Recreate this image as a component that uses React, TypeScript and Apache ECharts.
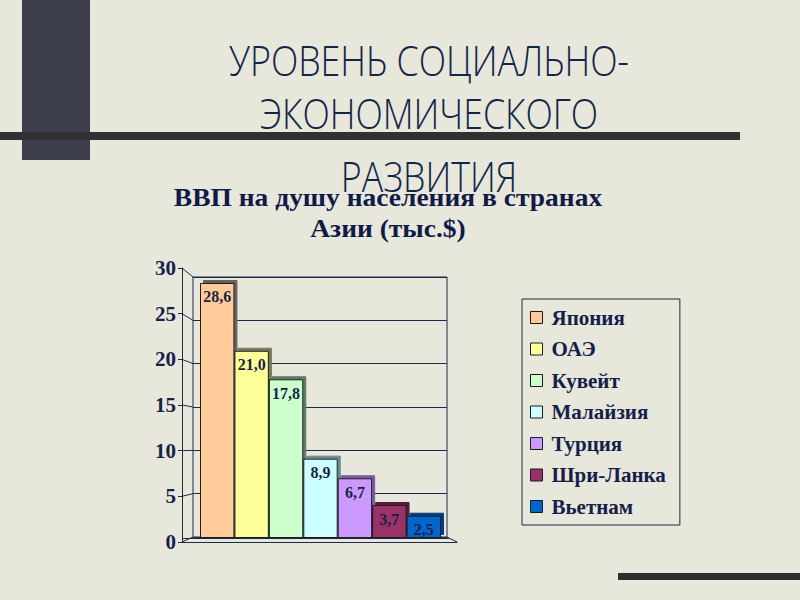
import React, { useEffect, useRef } from "react";
import * as echarts from "echarts";

const categories = ["Япония", "ОАЭ", "Кувейт", "Малайзия", "Турция", "Шри-Ланка", "Вьетнам"];
const values = [28.6, 21.0, 17.8, 8.9, 6.7, 3.7, 2.5];
const tickValues = [0, 5, 10, 15, 20, 25, 30];
const barColors = ["#FFCC99", "#FFFF99", "#CCFFCC", "#CCFFFF", "#CC99FF", "#993366", "#0066CC"];
const sideColors = ["#6a6058", "#77775a", "#5f7a62", "#6a8a8a", "#7a5a9a", "#5a1f3d", "#003d7a"];
const mainTitleLines = ["УРОВЕНЬ СОЦИАЛЬНО-", "ЭКОНОМИЧЕСКОГО", "РАЗВИТИЯ"];
const chartTitle = "ВВП на душу населения в странах\nАзии (тыс.$)";

const LINE = "#1c2a48";
const TITLE_FONT = '"Open Sans", "Noto Sans", "Liberation Sans", sans-serif';

function measure(text: string, font: string): number {
  const c = document.createElement("canvas").getContext("2d");
  if (!c) return 1;
  c.font = font;
  return c.measureText(text).width;
}

export default function App() {
  const ref = useRef<HTMLDivElement>(null);
  useEffect(() => {
    document.body.style.margin = "0";
    if (!ref.current) return;
    const chart = echarts.init(ref.current, null, { renderer: "svg" });
    const titleSize = 43;
    const titleFont = `300 ${titleSize}px ${TITLE_FONT}`;
    const w = measure(mainTitleLines[0], titleFont);
    const sx = 400 / w;
    const titleY = [60, 113, 176];

    const barSeries = categories.map((name, i) => ({
      name,
      type: "bar",
      xAxisIndex: 2,
      yAxisIndex: 2,
      data: [values[i]],
      barGap: "0%",
      barCategoryGap: "0%",
      itemStyle: {
        color: barColors[i],
        borderColor: "#1a1a22",
        borderWidth: 1,
        shadowColor: sideColors[i],
        shadowOffsetX: 3,
        shadowOffsetY: -3,
        shadowBlur: 0,
      },
      label: {
        show: true,
        position: "insideTop",
        distance: 6,
        formatter: (p: any) => Number(p.value).toFixed(1).replace(".", ","),
        fontFamily: "Liberation Serif",
        fontWeight: "bold",
        fontSize: 16,
        color: "#1b1f48",
      },
      z: 3,
    }));

    const option: any = {
      animation: false,
      backgroundColor: "#E8E7DB",
      graphic: [
        { type: "rect", shape: { x: 22, y: 0, width: 68, height: 160 }, style: { fill: "#3d3f4e" }, z: 0 },
        { type: "rect", shape: { x: 0, y: 132, width: 740, height: 8 }, style: { fill: "#313131" }, z: 0 },
        { type: "rect", shape: { x: 618, y: 573, width: 182, height: 7 }, style: { fill: "#2f2f2f" }, z: 0 },
        ...mainTitleLines.map((t, i) => ({
          type: "text",
          x: 429,
          y: titleY[i],
          scaleX: sx,
          z: 5,
          style: {
            text: t,
            font: titleFont,
            fill: "#122648",
            textAlign: "center",
            textVerticalAlign: "middle",
          },
        })),
        {
          type: "text",
          x: 388,
          y: 182,
          scaleX: 1.1,
          z: 6,
          style: {
            text: chartTitle,
            font: 'bold 25px "Liberation Serif", serif',
            lineHeight: 31,
            fill: "#0f1a48",
            textAlign: "center",
            textVerticalAlign: "top",
          },
        },
      ],
      legend: {
        orient: "vertical",
        left: 522,
        top: 299,
        padding: [8, 14, 8, 8],
        itemGap: 10.5,
        itemWidth: 12,
        itemHeight: 12,
        icon: "rect",
        borderColor: LINE,
        borderWidth: 1,
        data: categories,
        itemStyle: { borderColor: "#1a1a22", borderWidth: 1, shadowBlur: 0, shadowOffsetX: 0, shadowOffsetY: 0 },
        textStyle: {
          fontFamily: "Liberation Serif",
          fontWeight: "bold",
          fontSize: 21,
          color: "#14204a",
          lineHeight: 21,
          padding: [0, 0, 0, 4],
        },
      },
      grid: [
        { left: 193, top: 277, width: 254, height: 260, show: true, borderColor: LINE, borderWidth: 1, backgroundColor: "transparent" },
        { left: 182, top: 268, width: 275, height: 274 },
        { left: 200, top: 270.5, width: 241, height: 267.5 },
      ],
      xAxis: [
        { gridIndex: 0, type: "value", min: 0, max: 1, show: false },
        {
          gridIndex: 1,
          type: "category",
          data: [""],
          axisLine: { show: true, lineStyle: { color: LINE, width: 1 } },
          axisTick: { show: false },
          axisLabel: { show: false },
        },
        { gridIndex: 2, type: "category", data: ["ВВП"], show: false },
      ],
      yAxis: [
        {
          gridIndex: 0,
          type: "value",
          min: 0,
          max: 30,
          interval: 5,
          axisLine: { show: false },
          axisTick: { show: false },
          axisLabel: { show: false },
          splitLine: { show: true, lineStyle: { color: LINE, width: 1, type: "solid" } },
        },
        {
          gridIndex: 1,
          type: "value",
          min: 0,
          max: 30,
          interval: 5,
          axisLine: { show: true, lineStyle: { color: LINE, width: 1 } },
          axisTick: { show: true, inside: false, length: 4, lineStyle: { color: LINE } },
          axisLabel: {
            margin: 6,
            fontFamily: "Liberation Serif",
            fontWeight: "bold",
            fontSize: 21,
            color: "#16204a",
          },
          splitLine: { show: false },
        },
        { gridIndex: 2, type: "value", min: 0, max: 30, show: false, splitLine: { show: false } },
      ],
      series: [
        {
          type: "custom",
          name: "connectors",
          xAxisIndex: 0,
          yAxisIndex: 0,
          silent: true,
          z: 2,
          data: tickValues.map((v) => [0, v]),
          renderItem: (params: any, api: any) => {
            const v = api.value(1);
            const back = api.coord([0, v]);
            const mid = api.coord([0, 15]);
            const k = 274 / 260;
            const fy = mid[1] + (back[1] - mid[1]) * k - 2;
            const children: any[] = [
              { type: "line", shape: { x1: back[0] - 11, y1: fy, x2: back[0], y2: back[1] }, style: { stroke: LINE, lineWidth: 1 } },
            ];
            if (v === 0) {
              const br = api.coord([1, 0]);
              children.push({ type: "line", shape: { x1: br[0], y1: br[1], x2: br[0] + 10, y2: fy }, style: { stroke: LINE, lineWidth: 1 } });
              children.push({ type: "line", shape: { x1: back[0] - 11, y1: br[1] + 1.5, x2: br[0] + 2, y2: br[1] + 1.5 }, style: { stroke: LINE, lineWidth: 1 } });
            }
            return { type: "group", children };
          },
        },
        ...barSeries,
      ],
    };
    chart.setOption(option);
    return () => chart.dispose();
  }, []);
  return <div ref={ref} style={{ width: 800, height: 600 }} />;
}
